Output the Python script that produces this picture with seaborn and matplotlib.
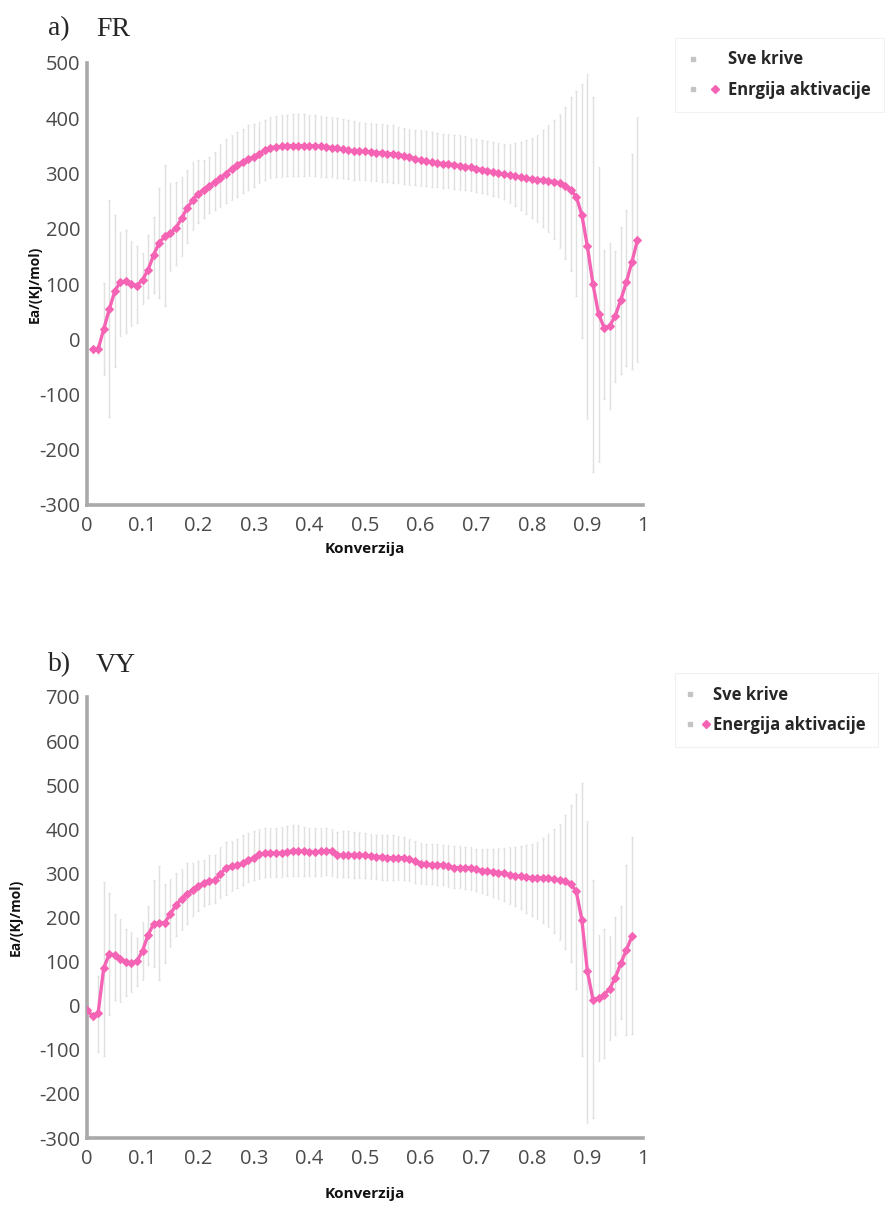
import numpy as np
import pandas as pd
import matplotlib
matplotlib.use("Agg")
import matplotlib.pyplot as plt
from matplotlib.lines import Line2D
from matplotlib.legend_handler import HandlerTuple
import seaborn as sns

# ---------------- data ----------------
fr_x = [round(0.01 * i, 2) for i in range(1, 100)]
fr_mean = [-18, -18, 18, 54, 87, 104, 105, 100, 97, 108,
           126, 153, 175, 186, 192, 201, 219, 237, 252, 263,
           271, 277, 285, 291, 300, 309, 316, 321, 326, 330,
           336, 342, 347, 348, 349, 350, 350, 350, 350, 350,
           350, 349, 348, 347, 346, 344, 342, 341, 340, 340,
           339, 338, 337, 336, 335, 334, 332, 330, 327, 324,
           322, 320, 319, 318, 317, 316, 314, 312, 311, 309,
           307, 305, 303, 301, 299, 297, 295, 293, 291, 290,
           289, 288, 287, 285, 283, 278, 270, 258, 225, 168,
           100, 46, 21, 24, 42, 71, 103, 140, 179]
fr_upper = [-12, -10, 102, 252, 225, 195, 198, 177, 168, 156,
            189, 222, 273, 315, 282, 285, 294, 306, 321, 324,
            325, 330, 339, 354, 363, 369, 375, 381, 387, 390,
            393, 397, 402, 404, 405, 406, 407, 407, 407, 406,
            405, 404, 403, 402, 401, 399, 397, 395, 393, 392,
            391, 390, 389, 388, 387, 385, 383, 381, 379, 378,
            377, 375, 374, 372, 371, 370, 369, 367, 365, 363,
            361, 359, 357, 355, 354, 354, 355, 357, 360, 364,
            370, 378, 387, 397, 408, 420, 438, 450, 462, 480,
            438, 312, 162, 174, 159, 204, 234, 336, 402]
fr_lower = [-24, -26, -65, -141, -51, 6, 12, 24, 30, 63,
            75, 84, 75, 60, 123, 135, 150, 174, 198, 210,
            219, 228, 234, 240, 246, 252, 258, 264, 270, 276,
            282, 288, 291, 293, 294, 295, 295, 295, 295, 295,
            295, 294, 294, 293, 292, 291, 290, 289, 288, 288,
            287, 286, 285, 284, 283, 282, 281, 280, 279, 278,
            277, 276, 275, 274, 273, 272, 271, 270, 268, 266,
            264, 262, 260, 257, 253, 247, 241, 234, 227, 220,
            212, 204, 194, 182, 165, 145, 123, 78, 3, -144,
            -240, -222, -108, -126, -78, -63, -48, -54, -42]

vy_x = [round(0.01 * i, 2) for i in range(0, 99)]
vy_mean = [-9, -24, -17, 85, 117, 115, 106, 99, 97, 101,
           125, 161, 186, 188, 188, 208, 228, 242, 253, 262,
           271, 278, 283, 284, 299, 312, 317, 318, 324, 330,
           336, 343, 346, 346, 346, 347, 348, 351, 351, 350,
           349, 348, 350, 351, 351, 342, 342, 342, 342, 342,
           341, 340, 338, 337, 336, 335, 335, 336, 332, 327,
           322, 321, 320, 320, 319, 316, 313, 313, 313, 313,
           310, 306, 305, 304, 302, 300, 297, 295, 293, 291,
           290, 290, 290, 289, 287, 285, 282, 277, 259, 195,
           78, 14, 17, 25, 38, 63, 96, 126, 157]
vy_upper = [-2, -15, 67, 280, 255, 208, 197, 175, 168, 154,
            190, 226, 284, 317, 277, 288, 302, 309, 324, 324,
            328, 331, 342, 342, 360, 371, 374, 378, 386, 391,
            396, 400, 404, 404, 404, 405, 407, 409, 409, 405,
            403, 402, 404, 403, 400, 395, 396, 396, 394, 393,
            392, 390, 388, 387, 386, 386, 384, 383, 378, 373,
            368, 367, 366, 366, 365, 364, 362, 361, 360, 360,
            356, 355, 355, 356, 357, 358, 359, 360, 362, 364,
            367, 372, 380, 389, 400, 411, 433, 454, 480, 505,
            418, 284, 161, 175, 157, 201, 226, 320, 382]
vy_lower = [-16, -33, -104, -114, -20, 12, 9, 23, 30, 45,
            59, 92, 88, 59, 96, 132, 157, 172, 186, 204,
            215, 226, 230, 233, 244, 251, 259, 266, 273, 280,
            284, 288, 291, 291, 291, 292, 293, 294, 294, 294,
            293, 293, 295, 296, 295, 292, 291, 291, 290, 290,
            289, 288, 287, 286, 285, 284, 284, 285, 282, 279,
            277, 276, 275, 274, 273, 270, 267, 266, 264, 262,
            259, 255, 251, 246, 241, 237, 231, 225, 219, 211,
            204, 197, 188, 178, 165, 150, 128, 99, 38, -115,
            -265, -255, -125, -118, -78, -67, -31, -67, -64]

x_ticks = [0, 0.1, 0.2, 0.3, 0.4, 0.5, 0.6, 0.7, 0.8, 0.9, 1]
x_tick_labels = ["0", "0.1", "0.2", "0.3", "0.4", "0.5", "0.6", "0.7", "0.8", "0.9", "1"]
fr_y_ticks = [-300, -200, -100, 0, 100, 200, 300, 400, 500]
vy_y_ticks = [-300, -200, -100, 0, 100, 200, 300, 400, 500, 600, 700]

panel_letters = ["a)", "b)"]
panel_names = ["FR", "VY"]
legend_labels_fr = ["Sve krive", "Enrgija aktivacije"]
legend_labels_vy = ["Sve krive", "Energija aktivacije"]
x_label = "Konverzija"
y_label = "Ea/(KJ/mol)"

# ---------------- style ----------------
sns.set_style("white")
plt.rcParams["font.family"] = ["Open Sans", "DejaVu Sans"]
plt.rcParams["axes.unicode_minus"] = False

PINK = "#f564b4"
BAR = "#e0e0e0"
AXC = "#a9a9a9"
TICKC = "#4a4a4a"
SERIF = ["Liberation Serif", "DejaVu Serif"]

fig = plt.figure(figsize=(8.96, 12.18), dpi=100)
ax_top = fig.add_axes([87 / 896, 1 - 505 / 1218, 556 / 896, 442 / 1218])
ax_bot = fig.add_axes([87 / 896, 1 - 1138 / 1218, 556 / 896, 441 / 1218])


def draw_panel(ax, xs, mean, lower, upper, yticks, ylim, ylabel_x, xlabelpad):
    df = pd.DataFrame({"x": xs, "mean": mean, "lo": lower, "hi": upper})
    ax.vlines(df["x"], df["lo"], df["hi"], color=BAR, linewidth=1.0, zorder=1)
    ax.hlines(df["lo"], df["x"] - 0.0015, df["x"] + 0.0015, color=BAR, linewidth=1.0, zorder=1)
    ax.hlines(df["hi"], df["x"] - 0.0015, df["x"] + 0.0015, color=BAR, linewidth=1.0, zorder=1)
    sns.lineplot(data=df, x="x", y="mean", ax=ax, color=PINK, linewidth=2.4,
                 marker="D", markersize=4.2, markeredgecolor=PINK, zorder=3)
    ax.set_xlim(0, 1)
    ax.set_ylim(*ylim)
    ax.set_xticks(x_ticks)
    ax.set_xticklabels(x_tick_labels)
    ax.set_yticks(yticks)
    ax.set_yticklabels([str(t) for t in yticks])
    for s in ["top", "right"]:
        ax.spines[s].set_visible(False)
    for s in ["left", "bottom"]:
        ax.spines[s].set_color(AXC)
        ax.spines[s].set_linewidth(2.6)
    ax.tick_params(axis="both", colors="#c8c8c8", labelcolor=TICKC, labelsize=14.5,
                   length=3, width=1)
    ax.tick_params(axis="x", direction="in", pad=8)
    ax.tick_params(axis="y", direction="out", pad=2)
    ax.set_xlabel(x_label, fontsize=11, fontweight="bold", color="#111111", labelpad=xlabelpad)
    ax.set_ylabel(y_label, fontsize=10, fontweight="bold", color="#111111")
    ax.yaxis.set_label_coords(ylabel_x, 0.5)
    ax.grid(False)


draw_panel(ax_top, fr_x, fr_mean, fr_lower, fr_upper, fr_y_ticks, (-300, 500), -0.081, 4)
draw_panel(ax_bot, vy_x, vy_mean, vy_lower, vy_upper, vy_y_ticks, (-300, 700), -0.116, 13)

# panel titles (serif)
for letter, name, ypx in [(panel_letters[0], panel_names[0], 29),
                          (panel_letters[1], panel_names[1], 665)]:
    fig.text(48 / 896, 1 - ypx / 1218, letter, fontsize=20, family=SERIF,
             va="center", ha="left")
    fig.text(96 / 896, 1 - ypx / 1218, name, fontsize=20, family=SERIF,
             va="center", ha="left")


def add_legend(ax, labels, y_top_px, x_left_px, handlelength, textpad):
    box = Line2D([], [], linestyle="none", marker="s", markersize=3.2,
                 color="#c4c4c4")
    blank = Line2D([], [], linestyle="none", marker="", color="none")
    dia = Line2D([], [], linestyle="none", marker="D", markersize=4.5, color=PINK)
    leg = ax.legend([(box, blank), (box, dia)], labels, loc="upper left",
                    bbox_to_anchor=(x_left_px / 896, 1 - y_top_px / 1218),
                    bbox_transform=fig.transFigure, frameon=True,
                    handler_map={tuple: HandlerTuple(ndivide=None, pad=0.6)},
                    prop={"weight": "bold", "size": 12,
                          "family": ["Open Sans", "DejaVu Sans"]},
                    handlelength=handlelength, handletextpad=textpad,
                    labelspacing=0.75, borderpad=0.75, fancybox=False,
                    borderaxespad=0)
    leg.get_frame().set_edgecolor("#eeeeee")
    leg.get_frame().set_linewidth(0.8)
    return leg


add_legend(ax_top, legend_labels_fr, 38, 675, 2.0, 0.45)
add_legend(ax_bot, legend_labels_vy, 673, 675, 1.3, 0.25)

fig.savefig("out.png", dpi=100)
